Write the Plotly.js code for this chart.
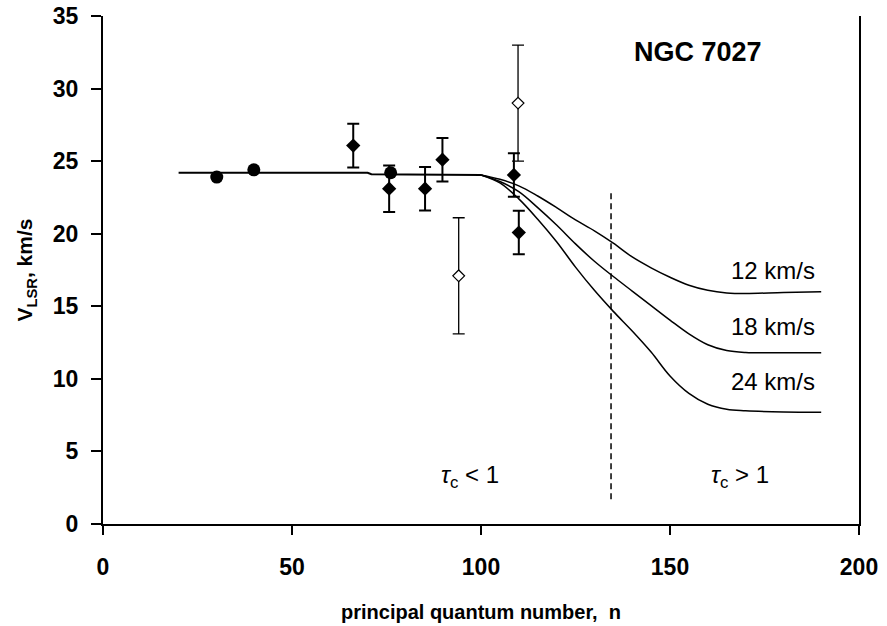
<!DOCTYPE html>
<html>
<head>
<meta charset="utf-8">
<script src="https://cdn.plot.ly/plotly-3.0.1.min.js"></script>
<style>html,body{margin:0;padding:0;background:#fff;}#chart{width:887px;height:626px;}</style>
</head>
<body>
<div id="chart"></div>
<script>
// Filled diamonds with error bars
const nFilled = [66.2, 75.7, 85.2, 89.8, 108.7, 110.0];
const vFilled = [26.07, 23.1, 23.1, 25.1, 24.05, 20.08];
const errFilled = [1.5, 1.6, 1.5, 1.5, 1.5, 1.5];
// Large filled circles
const nCircle = [30.1, 39.9, 76.1];
const vCircle = [23.9, 24.4, 24.2];
// Open diamonds with error bars
const nOpen = [94.1, 109.8];
const vOpen = [17.1, 29.0];
const errOpen = [4.0, 4.0];
// Flat model line (n < 100)
const nBase = [20, 70, 71, 100];
const vBase = [24.2, 24.2, 24.1, 24.05];
// Model curves (n >= 100)
const nModel = [100, 105, 110, 115, 120, 125, 130, 135, 140, 145, 150, 155, 160, 165, 170, 180, 190];
const v12 = [24.05, 23.75, 23.3, 22.6, 21.8, 20.95, 20.2, 19.35, 18.4, 17.65, 17.0, 16.45, 16.1, 15.92, 15.88, 15.95, 16.0];
const v18 = [24.05, 23.6, 22.9, 21.8, 20.6, 19.3, 18.1, 17.05, 16.05, 15.05, 14.05, 13.1, 12.35, 11.95, 11.82, 11.8, 11.8];
const v24 = [24.05, 23.5, 22.4, 21.0, 19.45, 17.7, 16.1, 14.65, 13.3, 11.85, 10.2, 9.0, 8.25, 7.9, 7.8, 7.72, 7.7];
const curveLabels = ['12 km/s', '18 km/s', '24 km/s'];
const curveLabelY = [17.45, 13.6, 9.8];
const xTicks = [0, 50, 100, 150, 200];
const yTicks = [0, 5, 10, 15, 20, 25, 30, 35];
const boundaryN = 134.4;
const boundaryV = [1.7, 23.05];

const lineCol = '#000';
const traces = [
  {x: nBase, y: vBase, mode: 'lines', line: {color: lineCol, width: 2}, hoverinfo: 'skip'},
  {x: nModel, y: v12, mode: 'lines', line: {color: lineCol, width: 1.5, shape: 'spline', smoothing: 1}},
  {x: nModel, y: v18, mode: 'lines', line: {color: lineCol, width: 1.5, shape: 'spline', smoothing: 1}},
  {x: nModel, y: v24, mode: 'lines', line: {color: lineCol, width: 1.5, shape: 'spline', smoothing: 1}},
  {x: [boundaryN, boundaryN], y: boundaryV, mode: 'lines', line: {color: lineCol, width: 1.5, dash: '6px,4px'}},
  {x: nOpen, y: vOpen, mode: 'markers',
   error_y: {type: 'data', array: errOpen, visible: true, color: lineCol, thickness: 1.3, width: 6},
   marker: {symbol: 'diamond', size: 9, color: '#fff', line: {color: lineCol, width: 1.2}}},
  {x: nFilled, y: vFilled, mode: 'markers',
   error_y: {type: 'data', array: errFilled, visible: true, color: lineCol, thickness: 2, width: 6},
   marker: {symbol: 'diamond', size: 11, color: lineCol}},
  {x: nCircle, y: vCircle, mode: 'markers', marker: {symbol: 'circle', size: 13, color: lineCol}}
];

const annotations = curveLabels.map((t, i) => ({
  x: 189, y: curveLabelY[i], xref: 'x', yref: 'y', text: t, showarrow: false,
  xanchor: 'right', yanchor: 'middle', font: {family: 'Liberation Sans, Arial, sans-serif', size: 24, color: '#000'}
}));
annotations.push({x: 157.3, y: 32.55, xref: 'x', yref: 'y', text: 'NGC 7027', showarrow: false,
  xanchor: 'center', yanchor: 'middle', font: {family: 'Liberation Sans, Arial, sans-serif', size: 27, color: '#000', weight: 'bold'}});
annotations.push({x: 97.2, y: 3.3, xref: 'x', yref: 'y', text: '<i>τ</i><sub>c</sub> < 1', showarrow: false,
  xanchor: 'center', yanchor: 'middle', font: {family: 'Liberation Sans, Arial, sans-serif', size: 24, color: '#000'}});
annotations.push({x: 168.5, y: 3.3, xref: 'x', yref: 'y', text: '<i>τ</i><sub>c</sub> > 1', showarrow: false,
  xanchor: 'center', yanchor: 'middle', font: {family: 'Liberation Sans, Arial, sans-serif', size: 24, color: '#000'}});

const layout = {
  width: 887, height: 626,
  margin: {l: 103, r: 28, t: 16, b: 102},
  paper_bgcolor: '#fff', plot_bgcolor: '#fff',
  showlegend: false,
  xaxis: {
    range: [0, 200], tickvals: xTicks, ticktext: xTicks.map(String),
    showgrid: false, zeroline: false, showline: true, linecolor: '#000', linewidth: 2,
    ticks: 'outside', ticklen: 9, tickwidth: 2, tickcolor: '#000', ticklabelstandoff: 12,
    tickfont: {family: 'Liberation Sans, Arial, sans-serif', size: 23, color: '#000', weight: 'bold'},
    title: {text: 'principal quantum number,  n', standoff: 26,
      font: {family: 'Liberation Sans Narrow, Arial Narrow, Liberation Sans, sans-serif', size: 20, color: '#000', weight: 'bold'}}
  },
  yaxis: {
    range: [0, 35], tickvals: yTicks, ticktext: yTicks.map(String),
    showgrid: false, zeroline: false, showline: true, linecolor: '#000', linewidth: 2, mirror: true,
    ticks: 'outside', ticklen: 10, tickwidth: 2, tickcolor: '#000', ticklabelstandoff: 8,
    tickfont: {family: 'Liberation Sans, Arial, sans-serif', size: 23, color: '#000', weight: 'bold'},
    title: {text: 'V<sub>LSR</sub>, km/s', standoff: 14,
      font: {family: 'Liberation Sans, Arial, sans-serif', size: 21, color: '#000', weight: 'bold'}}
  },
  annotations: annotations
};

Plotly.newPlot('chart', traces, layout, {staticPlot: true, displayModeBar: false});
</script>
</body>
</html>
